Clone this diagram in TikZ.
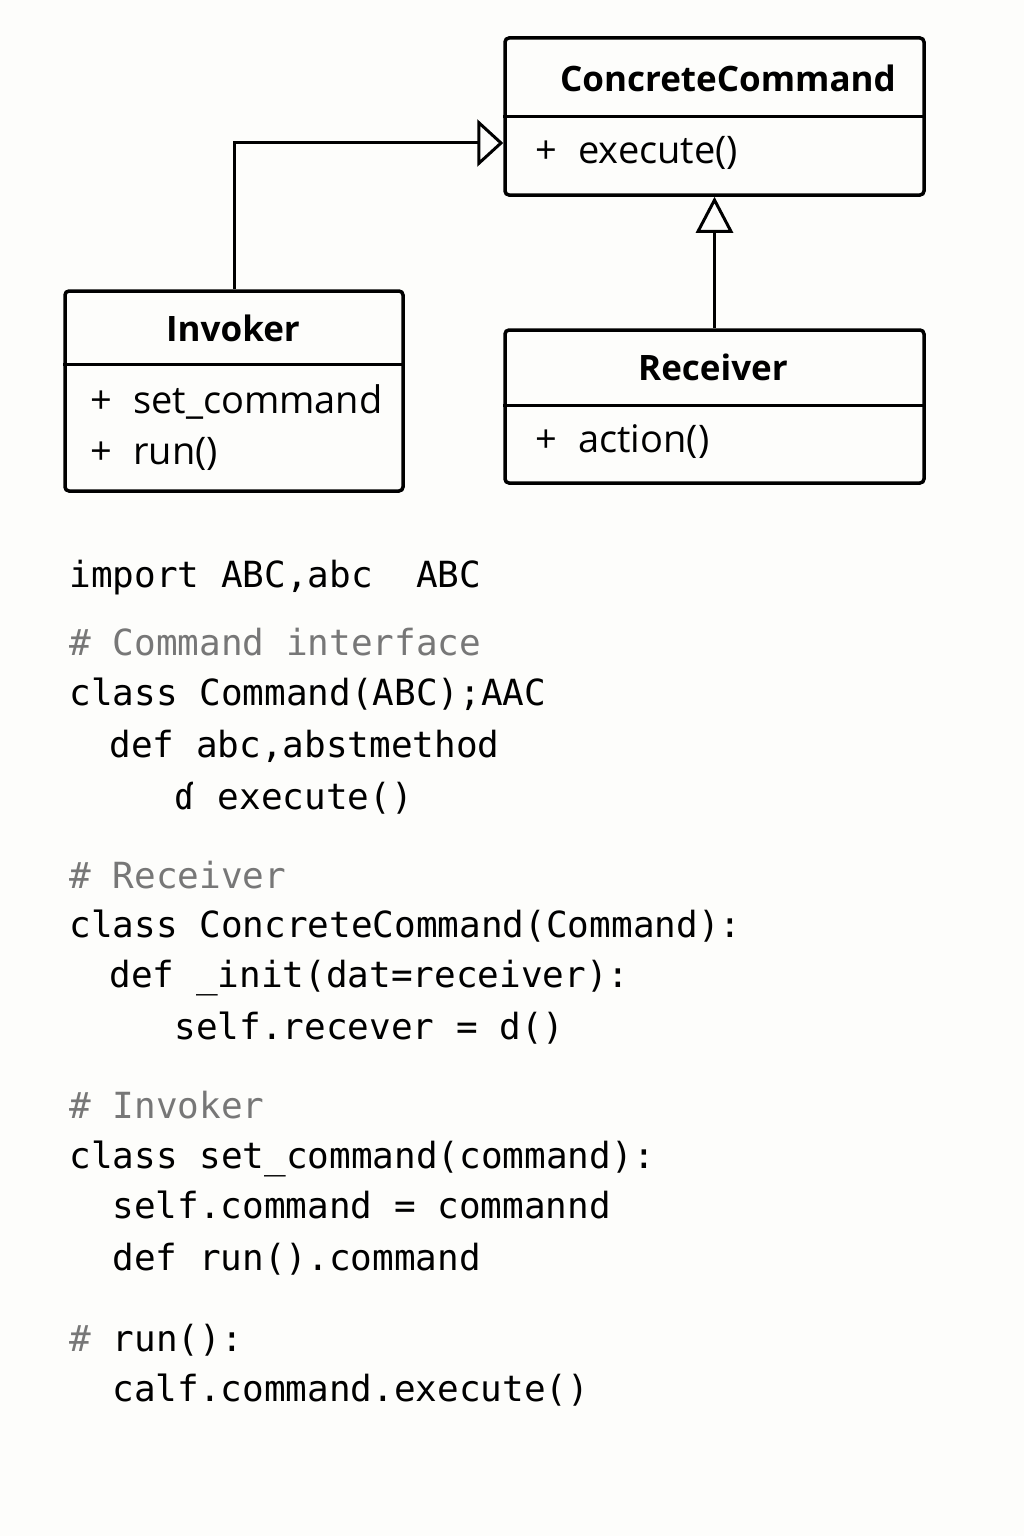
\documentclass[tikz,border=0pt]{standalone}
\usepackage{fontspec}
\setmainfont{Open Sans}
\newfontfamily\codefont{DejaVu Sans Mono}
\usetikzlibrary{arrows.meta}

\definecolor{paper}{HTML}{FDFDFB}
\definecolor{commentgray}{HTML}{777777}

\tikzset{
  umlbox/.style={draw,line width=3.5pt,rounded corners=4pt,inner sep=0pt},
  classname/.style={font=\fontsize{35}{40}\selectfont\bfseries},
  member/.style={anchor=base west,font=\fontsize{38}{44}\selectfont},
  code/.style={anchor=base west,font=\fontsize{36}{40}\selectfont\codefont},
  comment/.style={code,text=commentgray},
  inherit/.style={line width=3pt,-{Triangle[open,length=26pt,width=47pt,fill=paper]}},
  inheritup/.style={line width=3pt,-{Triangle[open,length=36pt,width=37pt,fill=paper]}},
}

\begin{document}
\begin{tikzpicture}[x=1pt,y=-1pt]

	\useasboundingbox (0,0) rectangle (1024,1536);
	\fill[paper] (0,0) rectangle (1024,1536);

	%\draw[step=100,gray,very thin] (0,0) grid (1024,1536);

	\node (cc) [umlbox,minimum width=419,minimum height=157] at (714.5,116.5) {};
	\draw[line width=3pt] (cc.west) -- (cc.east);
	\node (ccname) [classname] at (728,78) {ConcreteCommand};
	\node (ccexec) [member] at (532,164) {+\hspace{21pt}execute()};

	\node (inv) [umlbox,minimum width=338,minimum height=200] at (234,391) {};
	\draw[line width=3pt] (inv.west |- 0,364) -- (inv.east |- 0,364);
	\node (invname) [classname] at (233,328) {Invoker};
	\node (invset) [member] at (87,413) {+\hspace{21pt}set\_command};
	\node (invrun) [member] at (87,464) {+\hspace{21pt}run()};

	\node (rec) [umlbox,minimum width=419,minimum height=153] at (714.5,406.5) {};
	\draw[line width=3pt] (rec.west |- 0,405) -- (rec.east |- 0,405);
	\node (recname) [classname] at (713,367) {Receiver};
	\node (recact) [member] at (532,452) {+\hspace{21pt}action()};

	\draw[inherit] (inv.north) |- ([yshift=-26.5pt]cc.west);
	\draw[inheritup] (rec.north) -- (cc.south);


	\node (imp) [code] at (66,587) {import ABC,abc~~ABC};

	\node (cmdnote) [comment] at (66,655) {\# Command interface};
	\node (cmdcls) [code] at (66,705) {class Command(ABC);AAC};
	\node (cmddef) [code] at (106,757) {def abc,abstmethod};
	\node (cmdexe) [code] at (171,809) {ɗ execute()};

	\node (recnote) [comment] at (66,888) {\# Receiver};
	\node (cccls) [code] at (66,937) {class ConcreteCommand(Command):};
	\node (ccinit) [code] at (106,987) {def \_init(dat=receiver):};
	\node (ccself) [code] at (171,1039) {self.recever = d()};

	\node (invnote) [comment] at (66,1118) {\# Invoker};
	\node (setcls) [code] at (66,1168) {class set\_command(command):};
	\node (setself) [code] at (109,1218) {self.command = commannd};
	\node (setrun) [code] at (109,1270) {def run().command};

	\node (runnote) [code] at (66,1351) {\textcolor{commentgray}{\#} run():};
	\node (runcall) [code] at (109,1401) {calf.command.execute()};

\end{tikzpicture}
\end{document}
